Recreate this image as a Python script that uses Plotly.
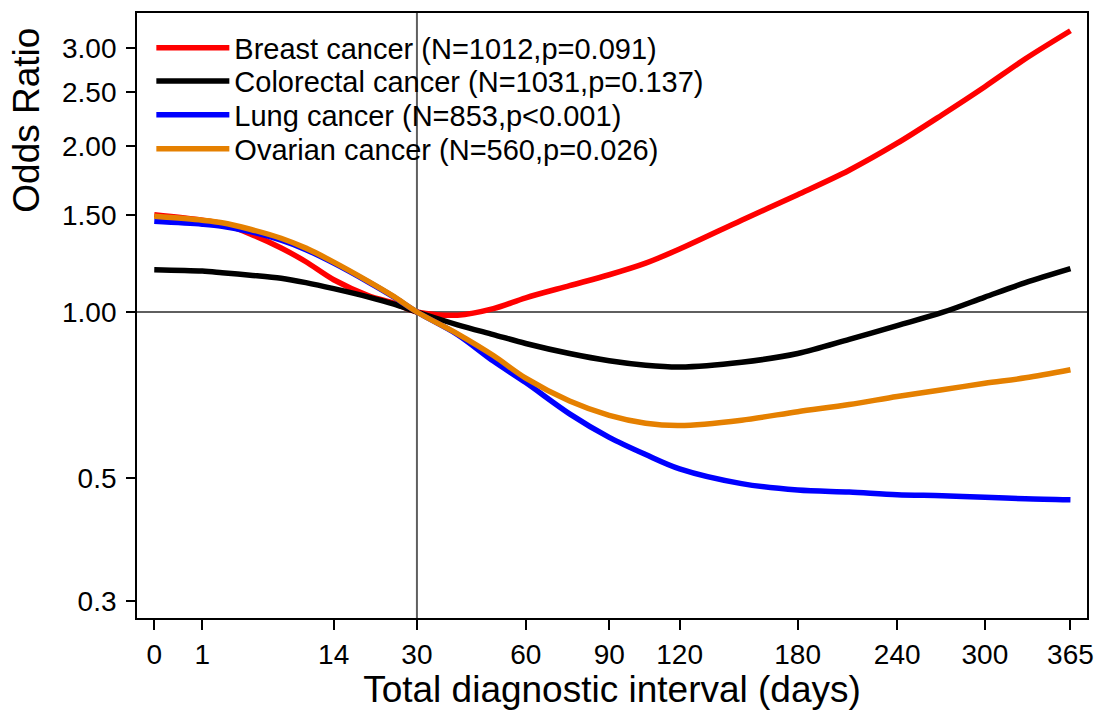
import numpy as np
import plotly.graph_objects as go

# Days at which the fitted odds ratios are evaluated
days = [0, 1, 2, 4, 7, 10, 14, 20, 25, 30, 40, 50, 60, 75, 90, 105, 120,
        150, 180, 210, 240, 270, 300, 330, 365]

# Odds ratios (reference: 30 days) per cancer site
breast_or = [1.500, 1.466, 1.445, 1.385, 1.306, 1.233, 1.144, 1.070, 1.037, 1.000,
             0.987, 1.014, 1.061, 1.116, 1.168, 1.226, 1.300, 1.466, 1.631, 1.806,
             2.021, 2.276, 2.558, 2.874, 3.230]
colorectal_or = [1.193, 1.186, 1.178, 1.166, 1.151, 1.130, 1.102, 1.064, 1.033, 1.000,
                 0.948, 0.910, 0.877, 0.841, 0.816, 0.801, 0.795, 0.811, 0.841, 0.892,
                 0.945, 0.998, 1.064, 1.130, 1.198]
lung_or = [1.459, 1.442, 1.430, 1.398, 1.349, 1.297, 1.226, 1.132, 1.064, 1.000,
           0.910, 0.815, 0.745, 0.654, 0.593, 0.552, 0.520, 0.489, 0.476, 0.472,
           0.467, 0.465, 0.462, 0.459, 0.457]
ovarian_or = [1.490, 1.466, 1.451, 1.412, 1.360, 1.305, 1.231, 1.135, 1.066, 1.000,
              0.913, 0.834, 0.759, 0.690, 0.650, 0.629, 0.623, 0.637, 0.660, 0.680,
              0.703, 0.723, 0.743, 0.760, 0.786]

series_names = [
    "Breast cancer (N=1012,p=0.091)",
    "Colorectal cancer (N=1031,p=0.137)",
    "Lung cancer (N=853,p<0.001)",
    "Ovarian cancer (N=560,p=0.026)",
]
series_values = [breast_or, colorectal_or, lung_or, ovarian_or]
series_colors = ["#FF0000", "#000000", "#0000FF", "#E58000"]

x_tick_days = [0, 1, 14, 30, 60, 90, 120, 180, 240, 300, 365]
y_tick_vals = [0.3, 0.5, 1.0, 1.5, 2.0, 2.5, 3.0]
y_tick_text = ["0.3", "0.5", "1.00", "1.50", "2.00", "2.50", "3.00"]
reference_day = 30

FONT = "Liberation Sans, Arial, sans-serif"

# x axis is drawn on a square-root scale of days
x_sqrt = np.sqrt(np.array(days, dtype=float))

fig = go.Figure()
legend_ids = ["legend", "legend2", "legend3", "legend4"]
for name, vals, color, lg in zip(series_names, series_values, series_colors, legend_ids):
    fig.add_trace(go.Scatter(
        x=x_sqrt, y=vals, mode="lines", name=name,
        line=dict(color=color, width=5.5, shape="spline", smoothing=0.9),
        legend=lg, hoverinfo="skip",
    ))

# reference lines at OR = 1 and at the 30-day reference interval
fig.add_hline(y=1.0, line=dict(color="#5F5F5F", width=2), layer="below")
fig.add_vline(x=np.sqrt(reference_day), line=dict(color="#5F5F5F", width=2), layer="below")

# one single-entry legend per row so the rows sit tightly stacked
legend_common = dict(
    x=0.0151, xanchor="left", yanchor="middle",
    bgcolor="rgba(0,0,0,0)", borderwidth=0,
    font=dict(family=FONT, size=29, color="#000000"),
    itemwidth=73,
)
row_y = [0.9425, 0.8872, 0.8314, 0.7752]
legend_layouts = {lg: dict(legend_common, y=yy) for lg, yy in zip(legend_ids, row_y)}

fig.update_layout(
    width=1099, height=714,
    margin=dict(l=137, r=12, t=13, b=96),
    paper_bgcolor="white", plot_bgcolor="white",
    font=dict(family=FONT, size=28, color="#000000"),
    showlegend=True,
    **legend_layouts,
    xaxis=dict(
        range=[-0.36, 19.45],
        automargin=False,
        tickmode="array",
        tickvals=np.sqrt(np.array(x_tick_days, dtype=float)),
        ticktext=[str(d) for d in x_tick_days],
        ticks="outside", ticklen=10, tickwidth=1.5, tickcolor="#000000",
        tickfont=dict(family=FONT, size=28, color="#000000"),
        showline=True, linecolor="#000000", linewidth=1.8, mirror=True,
        showgrid=False, zeroline=False,
        title=dict(text="Total diagnostic interval (days)",
                   font=dict(family=FONT, size=37, color="#000000"), standoff=4),
    ),
    yaxis=dict(
        type="log",
        range=[-0.554, 0.5413],
        automargin=False,
        tickmode="array",
        tickvals=y_tick_vals, ticktext=y_tick_text,
        ticks="outside", ticklen=9, tickwidth=1.5, tickcolor="#000000",
        tickfont=dict(family=FONT, size=28, color="#000000"),
        ticklabelstandoff=4,
        showline=True, linecolor="#000000", linewidth=1.8, mirror=True,
        showgrid=False, zeroline=False,
    ),
    annotations=[dict(
        text="Odds Ratio", textangle=-90, showarrow=False,
        xref="paper", yref="paper", x=-0.1165, y=0.8225,
        xanchor="center", yanchor="middle",
        font=dict(family=FONT, size=37, color="#000000"),
    )],
)

fig.write_html("out.html")
